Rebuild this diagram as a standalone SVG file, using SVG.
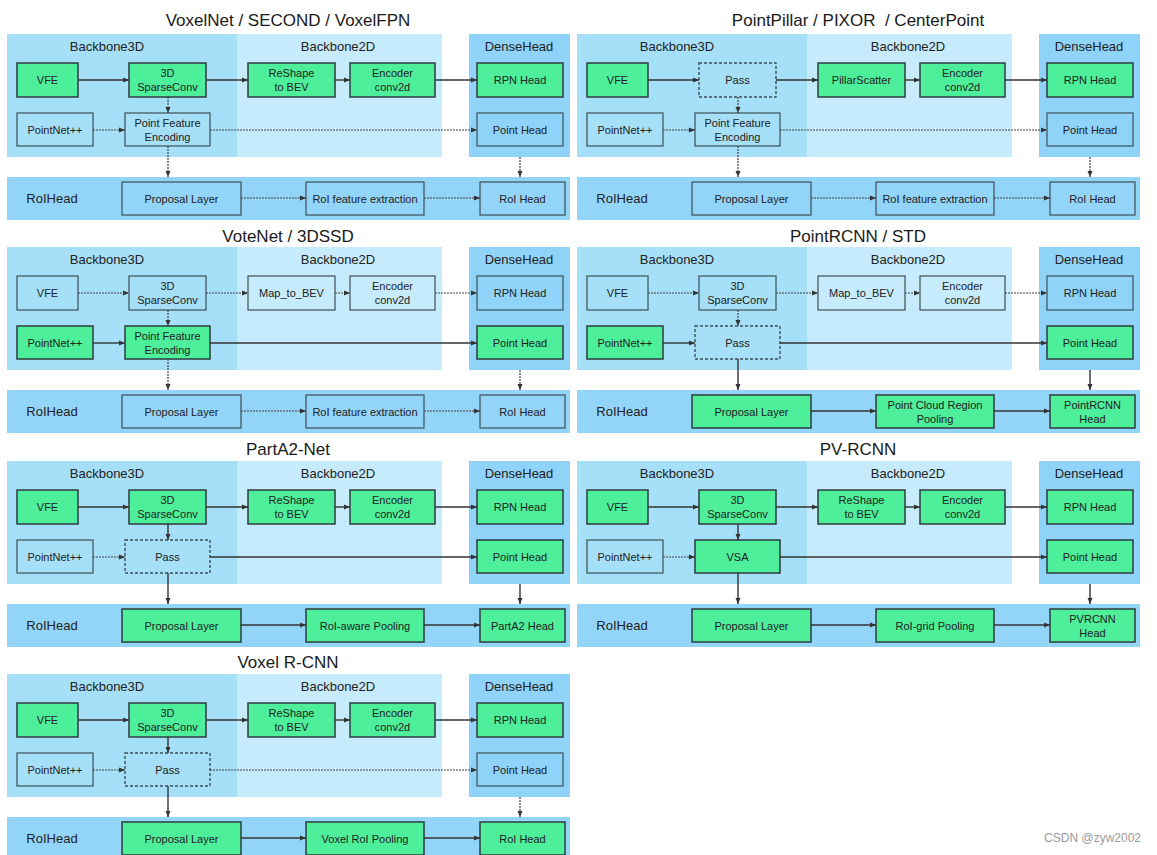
<svg xmlns="http://www.w3.org/2000/svg" width="1157" height="855" viewBox="0 0 1157 855">
<style>
text{font-family:"Liberation Sans",Arial,sans-serif;fill:#222;text-anchor:middle}
.ti{font-size:17px;fill:#1a1a1a;white-space:pre}
.h{font-size:13px}
.t{font-size:11px}
.b3{fill:#a6dff8}
.b2{fill:#c6ebfc}
.dh{fill:#8fd3f9}
.roi{fill:#93d5f9}
.g{fill:#4def9a;stroke:#2f3b3f;stroke-width:1.5}
.l{fill:none;stroke:#3d4f57;stroke-width:1.2}
.p{fill:none;stroke:#3d4f57;stroke-width:1.4;stroke-dasharray:3 2}
.s{stroke:#333;stroke-width:1.4;fill:none;marker-end:url(#ah)}
.d{stroke:#444;stroke-width:1.2;fill:none;stroke-dasharray:2 1;marker-end:url(#ah)}
.wm{font-size:12px;fill:#999;text-anchor:end}
</style>
<defs>
<marker id="ah" viewBox="0 0 6 6" refX="6" refY="3" markerWidth="6" markerHeight="6" markerUnits="userSpaceOnUse" orient="auto"><path d="M0,0.5 L6,3 L0,5.5 z" fill="#333"/></marker>
</defs>
<rect width="1157" height="855" fill="#fff"/>

<!-- Panel 1: VoxelNet -->
<g id="p1">
<text class="ti" x="288" y="26">VoxelNet / SECOND / VoxelFPN</text>
<g id="p1-bb3d"><rect class="b3" x="7" y="34" width="230" height="123"/><text class="h" x="107" y="51">Backbone3D</text></g>
<g id="p1-bb2d"><rect class="b2" x="237" y="34" width="205" height="123"/><text class="h" x="338" y="51">Backbone2D</text></g>
<g id="p1-dense"><rect class="dh" x="469" y="34" width="101" height="123"/><text class="h" x="519" y="51">DenseHead</text></g>
<g id="p1-roihead"><rect class="roi" x="7" y="177" width="563" height="43"/><text class="h" x="52" y="203">RoIHead</text></g>
<g id="p1-vfe"><rect class="g" x="17" y="63" width="61" height="34"/><text class="t" x="47.5" y="84">VFE</text></g>
<g id="p1-sparse"><rect class="g" x="129" y="63" width="77" height="34"/><text class="t" x="167.5" y="77">3D</text><text class="t" x="167.5" y="91">SparseConv</text></g>
<g id="p1-reshape"><rect class="g" x="248" y="63" width="87" height="34"/><text class="t" x="291.5" y="77">ReShape</text><text class="t" x="291.5" y="91">to BEV</text></g>
<g id="p1-enc"><rect class="g" x="350" y="63" width="85" height="34"/><text class="t" x="392.5" y="77">Encoder</text><text class="t" x="392.5" y="91">conv2d</text></g>
<g id="p1-rpn"><rect class="g" x="477" y="63" width="86" height="34"/><text class="t" x="520" y="84">RPN Head</text></g>
<g id="p1-pnet"><rect class="l" x="17" y="113" width="76" height="33"/><text class="t" x="55" y="133.5">PointNet++</text></g>
<g id="p1-pfe"><rect class="l" x="125" y="113" width="85" height="33"/><text class="t" x="167.5" y="127">Point Feature</text><text class="t" x="167.5" y="141">Encoding</text></g>
<g id="p1-ph"><rect class="l" x="477" y="113" width="86" height="33"/><text class="t" x="520" y="133.5">Point Head</text></g>
<g id="p1-prop"><rect class="l" x="122" y="182" width="119" height="33"/><text class="t" x="181.5" y="202.5">Proposal Layer</text></g>
<g id="p1-rfe"><rect class="l" x="306" y="182" width="118" height="33"/><text class="t" x="365" y="202.5">RoI feature extraction</text></g>
<g id="p1-rh"><rect class="l" x="480" y="182" width="85" height="33"/><text class="t" x="522.5" y="202.5">RoI Head</text></g>
<g id="p1-edges">
<line class="s" x1="78" y1="80" x2="129" y2="80"/>
<line class="s" x1="206" y1="80" x2="248" y2="80"/>
<line class="s" x1="335" y1="80" x2="350" y2="80"/>
<line class="s" x1="435" y1="80" x2="477" y2="80"/>
<line class="d" x1="168" y1="97" x2="168" y2="113"/>
<line class="d" x1="93" y1="130" x2="125" y2="130"/>
<line class="d" x1="210" y1="130" x2="477" y2="130"/>
<line class="d" x1="168" y1="146" x2="168" y2="177"/>
<line class="d" x1="520" y1="157" x2="520" y2="177"/>
<line class="d" x1="241" y1="198" x2="306" y2="198"/>
<line class="d" x1="424" y1="198" x2="480" y2="198"/>
</g>
</g>

<!-- Panel 2: PointPillar -->
<g id="p2" transform="translate(570,0)">
<text class="ti" x="288" y="26">PointPillar / PIXOR  / CenterPoint</text>
<g id="p2-bb3d"><rect class="b3" x="7" y="34" width="230" height="123"/><text class="h" x="107" y="51">Backbone3D</text></g>
<g id="p2-bb2d"><rect class="b2" x="237" y="34" width="205" height="123"/><text class="h" x="338" y="51">Backbone2D</text></g>
<g id="p2-dense"><rect class="dh" x="469" y="34" width="101" height="123"/><text class="h" x="519" y="51">DenseHead</text></g>
<g id="p2-roihead"><rect class="roi" x="7" y="177" width="563" height="43"/><text class="h" x="52" y="203">RoIHead</text></g>
<g id="p2-vfe"><rect class="g" x="17" y="63" width="61" height="34"/><text class="t" x="47.5" y="84">VFE</text></g>
<g id="p2-pass"><rect class="p" x="129" y="63" width="77" height="34"/><text class="t" x="167.5" y="84">Pass</text></g>
<g id="p2-scatter"><rect class="g" x="248" y="63" width="87" height="34"/><text class="t" x="291.5" y="84">PillarScatter</text></g>
<g id="p2-enc"><rect class="g" x="350" y="63" width="85" height="34"/><text class="t" x="392.5" y="77">Encoder</text><text class="t" x="392.5" y="91">conv2d</text></g>
<g id="p2-rpn"><rect class="g" x="477" y="63" width="86" height="34"/><text class="t" x="520" y="84">RPN Head</text></g>
<g id="p2-pnet"><rect class="l" x="17" y="113" width="76" height="33"/><text class="t" x="55" y="133.5">PointNet++</text></g>
<g id="p2-pfe"><rect class="l" x="125" y="113" width="85" height="33"/><text class="t" x="167.5" y="127">Point Feature</text><text class="t" x="167.5" y="141">Encoding</text></g>
<g id="p2-ph"><rect class="l" x="477" y="113" width="86" height="33"/><text class="t" x="520" y="133.5">Point Head</text></g>
<g id="p2-prop"><rect class="l" x="122" y="182" width="119" height="33"/><text class="t" x="181.5" y="202.5">Proposal Layer</text></g>
<g id="p2-rfe"><rect class="l" x="306" y="182" width="118" height="33"/><text class="t" x="365" y="202.5">RoI feature extraction</text></g>
<g id="p2-rh"><rect class="l" x="480" y="182" width="85" height="33"/><text class="t" x="522.5" y="202.5">RoI Head</text></g>
<g id="p2-edges">
<line class="s" x1="78" y1="80" x2="129" y2="80"/>
<line class="s" x1="206" y1="80" x2="248" y2="80"/>
<line class="s" x1="335" y1="80" x2="350" y2="80"/>
<line class="s" x1="435" y1="80" x2="477" y2="80"/>
<line class="d" x1="168" y1="97" x2="168" y2="113"/>
<line class="d" x1="93" y1="130" x2="125" y2="130"/>
<line class="d" x1="210" y1="130" x2="477" y2="130"/>
<line class="d" x1="168" y1="146" x2="168" y2="177"/>
<line class="d" x1="520" y1="157" x2="520" y2="177"/>
<line class="d" x1="241" y1="198" x2="306" y2="198"/>
<line class="d" x1="424" y1="198" x2="480" y2="198"/>
</g>
</g>

<!-- Panel 3: VoteNet -->
<g id="p3" transform="translate(0,213)">
<text class="ti" x="288" y="29">VoteNet / 3DSSD</text>
<g id="p3-bb3d"><rect class="b3" x="7" y="34" width="230" height="123"/><text class="h" x="107" y="51">Backbone3D</text></g>
<g id="p3-bb2d"><rect class="b2" x="237" y="34" width="205" height="123"/><text class="h" x="338" y="51">Backbone2D</text></g>
<g id="p3-dense"><rect class="dh" x="469" y="34" width="101" height="123"/><text class="h" x="519" y="51">DenseHead</text></g>
<g id="p3-roihead"><rect class="roi" x="7" y="177" width="563" height="43"/><text class="h" x="52" y="203">RoIHead</text></g>
<g id="p3-vfe"><rect class="l" x="17" y="63" width="61" height="34"/><text class="t" x="47.5" y="84">VFE</text></g>
<g id="p3-sparse"><rect class="l" x="129" y="63" width="77" height="34"/><text class="t" x="167.5" y="77">3D</text><text class="t" x="167.5" y="91">SparseConv</text></g>
<g id="p3-map"><rect class="l" x="248" y="63" width="87" height="34"/><text class="t" x="291.5" y="84">Map_to_BEV</text></g>
<g id="p3-enc"><rect class="l" x="350" y="63" width="85" height="34"/><text class="t" x="392.5" y="77">Encoder</text><text class="t" x="392.5" y="91">conv2d</text></g>
<g id="p3-rpn"><rect class="l" x="477" y="63" width="86" height="34"/><text class="t" x="520" y="84">RPN Head</text></g>
<g id="p3-pnet"><rect class="g" x="17" y="113" width="76" height="33"/><text class="t" x="55" y="133.5">PointNet++</text></g>
<g id="p3-pfe"><rect class="g" x="125" y="113" width="85" height="33"/><text class="t" x="167.5" y="127">Point Feature</text><text class="t" x="167.5" y="141">Encoding</text></g>
<g id="p3-ph"><rect class="g" x="477" y="113" width="86" height="33"/><text class="t" x="520" y="133.5">Point Head</text></g>
<g id="p3-prop"><rect class="l" x="122" y="182" width="119" height="33"/><text class="t" x="181.5" y="202.5">Proposal Layer</text></g>
<g id="p3-rfe"><rect class="l" x="306" y="182" width="118" height="33"/><text class="t" x="365" y="202.5">RoI feature extraction</text></g>
<g id="p3-rh"><rect class="l" x="480" y="182" width="85" height="33"/><text class="t" x="522.5" y="202.5">RoI Head</text></g>
<g id="p3-edges">
<line class="d" x1="78" y1="80" x2="129" y2="80"/>
<line class="d" x1="206" y1="80" x2="248" y2="80"/>
<line class="d" x1="335" y1="80" x2="350" y2="80"/>
<line class="d" x1="435" y1="80" x2="477" y2="80"/>
<line class="d" x1="168" y1="97" x2="168" y2="113"/>
<line class="s" x1="93" y1="130" x2="125" y2="130"/>
<line class="s" x1="210" y1="130" x2="477" y2="130"/>
<line class="d" x1="168" y1="146" x2="168" y2="177"/>
<line class="d" x1="520" y1="157" x2="520" y2="177"/>
<line class="d" x1="241" y1="198" x2="306" y2="198"/>
<line class="d" x1="424" y1="198" x2="480" y2="198"/>
</g>
</g>

<!-- Panel 4: PointRCNN -->
<g id="p4" transform="translate(570,213)">
<text class="ti" x="288" y="29">PointRCNN / STD</text>
<g id="p4-bb3d"><rect class="b3" x="7" y="34" width="230" height="123"/><text class="h" x="107" y="51">Backbone3D</text></g>
<g id="p4-bb2d"><rect class="b2" x="237" y="34" width="205" height="123"/><text class="h" x="338" y="51">Backbone2D</text></g>
<g id="p4-dense"><rect class="dh" x="469" y="34" width="101" height="123"/><text class="h" x="519" y="51">DenseHead</text></g>
<g id="p4-roihead"><rect class="roi" x="7" y="177" width="563" height="43"/><text class="h" x="52" y="203">RoIHead</text></g>
<g id="p4-vfe"><rect class="l" x="17" y="63" width="61" height="34"/><text class="t" x="47.5" y="84">VFE</text></g>
<g id="p4-sparse"><rect class="l" x="129" y="63" width="77" height="34"/><text class="t" x="167.5" y="77">3D</text><text class="t" x="167.5" y="91">SparseConv</text></g>
<g id="p4-map"><rect class="l" x="248" y="63" width="87" height="34"/><text class="t" x="291.5" y="84">Map_to_BEV</text></g>
<g id="p4-enc"><rect class="l" x="350" y="63" width="85" height="34"/><text class="t" x="392.5" y="77">Encoder</text><text class="t" x="392.5" y="91">conv2d</text></g>
<g id="p4-rpn"><rect class="l" x="477" y="63" width="86" height="34"/><text class="t" x="520" y="84">RPN Head</text></g>
<g id="p4-pnet"><rect class="g" x="17" y="113" width="76" height="33"/><text class="t" x="55" y="133.5">PointNet++</text></g>
<g id="p4-pass"><rect class="p" x="125" y="113" width="85" height="33"/><text class="t" x="167.5" y="133.5">Pass</text></g>
<g id="p4-ph"><rect class="g" x="477" y="113" width="86" height="33"/><text class="t" x="520" y="133.5">Point Head</text></g>
<g id="p4-prop"><rect class="g" x="122" y="182" width="119" height="33"/><text class="t" x="181.5" y="202.5">Proposal Layer</text></g>
<g id="p4-pcrp"><rect class="g" x="306" y="182" width="118" height="33"/><text class="t" x="365" y="195.5">Point Cloud Region</text><text class="t" x="365" y="209.5">Pooling</text></g>
<g id="p4-rh"><rect class="g" x="480" y="182" width="85" height="33"/><text class="t" x="522.5" y="195.5">PointRCNN</text><text class="t" x="522.5" y="209.5">Head</text></g>
<g id="p4-edges">
<line class="d" x1="78" y1="80" x2="129" y2="80"/>
<line class="d" x1="206" y1="80" x2="248" y2="80"/>
<line class="d" x1="335" y1="80" x2="350" y2="80"/>
<line class="d" x1="435" y1="80" x2="477" y2="80"/>
<line class="d" x1="168" y1="97" x2="168" y2="113"/>
<line class="s" x1="93" y1="130" x2="125" y2="130"/>
<line class="s" x1="210" y1="130" x2="477" y2="130"/>
<line class="s" x1="168" y1="146" x2="168" y2="177"/>
<line class="s" x1="520" y1="157" x2="520" y2="177"/>
<line class="s" x1="241" y1="198" x2="306" y2="198"/>
<line class="s" x1="424" y1="198" x2="480" y2="198"/>
</g>
</g>

<!-- Panel 5: PartA2-Net -->
<g id="p5" transform="translate(0,427)">
<text class="ti" x="288" y="28">PartA2-Net</text>
<g id="p5-bb3d"><rect class="b3" x="7" y="34" width="230" height="123"/><text class="h" x="107" y="51">Backbone3D</text></g>
<g id="p5-bb2d"><rect class="b2" x="237" y="34" width="205" height="123"/><text class="h" x="338" y="51">Backbone2D</text></g>
<g id="p5-dense"><rect class="dh" x="469" y="34" width="101" height="123"/><text class="h" x="519" y="51">DenseHead</text></g>
<g id="p5-roihead"><rect class="roi" x="7" y="177" width="563" height="43"/><text class="h" x="52" y="203">RoIHead</text></g>
<g id="p5-vfe"><rect class="g" x="17" y="63" width="61" height="34"/><text class="t" x="47.5" y="84">VFE</text></g>
<g id="p5-sparse"><rect class="g" x="129" y="63" width="77" height="34"/><text class="t" x="167.5" y="77">3D</text><text class="t" x="167.5" y="91">SparseConv</text></g>
<g id="p5-reshape"><rect class="g" x="248" y="63" width="87" height="34"/><text class="t" x="291.5" y="77">ReShape</text><text class="t" x="291.5" y="91">to BEV</text></g>
<g id="p5-enc"><rect class="g" x="350" y="63" width="85" height="34"/><text class="t" x="392.5" y="77">Encoder</text><text class="t" x="392.5" y="91">conv2d</text></g>
<g id="p5-rpn"><rect class="g" x="477" y="63" width="86" height="34"/><text class="t" x="520" y="84">RPN Head</text></g>
<g id="p5-pnet"><rect class="l" x="17" y="113" width="76" height="33"/><text class="t" x="55" y="133.5">PointNet++</text></g>
<g id="p5-pass"><rect class="p" x="125" y="113" width="85" height="33"/><text class="t" x="167.5" y="133.5">Pass</text></g>
<g id="p5-ph"><rect class="g" x="477" y="113" width="86" height="33"/><text class="t" x="520" y="133.5">Point Head</text></g>
<g id="p5-prop"><rect class="g" x="122" y="182" width="119" height="33"/><text class="t" x="181.5" y="202.5">Proposal Layer</text></g>
<g id="p5-pool"><rect class="g" x="306" y="182" width="118" height="33"/><text class="t" x="365" y="202.5">RoI-aware Pooling</text></g>
<g id="p5-rh"><rect class="g" x="480" y="182" width="85" height="33"/><text class="t" x="522.5" y="202.5">PartA2 Head</text></g>
<g id="p5-edges">
<line class="s" x1="78" y1="80" x2="129" y2="80"/>
<line class="s" x1="206" y1="80" x2="248" y2="80"/>
<line class="s" x1="335" y1="80" x2="350" y2="80"/>
<line class="s" x1="435" y1="80" x2="477" y2="80"/>
<line class="s" x1="168" y1="97" x2="168" y2="113"/>
<line class="d" x1="93" y1="130" x2="125" y2="130"/>
<line class="s" x1="210" y1="130" x2="477" y2="130"/>
<line class="s" x1="168" y1="146" x2="168" y2="177"/>
<line class="s" x1="520" y1="157" x2="520" y2="177"/>
<line class="s" x1="241" y1="198" x2="306" y2="198"/>
<line class="s" x1="424" y1="198" x2="480" y2="198"/>
</g>
</g>

<!-- Panel 6: PV-RCNN -->
<g id="p6" transform="translate(570,427)">
<text class="ti" x="288" y="28">PV-RCNN</text>
<g id="p6-bb3d"><rect class="b3" x="7" y="34" width="230" height="123"/><text class="h" x="107" y="51">Backbone3D</text></g>
<g id="p6-bb2d"><rect class="b2" x="237" y="34" width="205" height="123"/><text class="h" x="338" y="51">Backbone2D</text></g>
<g id="p6-dense"><rect class="dh" x="469" y="34" width="101" height="123"/><text class="h" x="519" y="51">DenseHead</text></g>
<g id="p6-roihead"><rect class="roi" x="7" y="177" width="563" height="43"/><text class="h" x="52" y="203">RoIHead</text></g>
<g id="p6-vfe"><rect class="g" x="17" y="63" width="61" height="34"/><text class="t" x="47.5" y="84">VFE</text></g>
<g id="p6-sparse"><rect class="g" x="129" y="63" width="77" height="34"/><text class="t" x="167.5" y="77">3D</text><text class="t" x="167.5" y="91">SparseConv</text></g>
<g id="p6-reshape"><rect class="g" x="248" y="63" width="87" height="34"/><text class="t" x="291.5" y="77">ReShape</text><text class="t" x="291.5" y="91">to BEV</text></g>
<g id="p6-enc"><rect class="g" x="350" y="63" width="85" height="34"/><text class="t" x="392.5" y="77">Encoder</text><text class="t" x="392.5" y="91">conv2d</text></g>
<g id="p6-rpn"><rect class="g" x="477" y="63" width="86" height="34"/><text class="t" x="520" y="84">RPN Head</text></g>
<g id="p6-pnet"><rect class="l" x="17" y="113" width="76" height="33"/><text class="t" x="55" y="133.5">PointNet++</text></g>
<g id="p6-vsa"><rect class="g" x="125" y="113" width="85" height="33"/><text class="t" x="167.5" y="133.5">VSA</text></g>
<g id="p6-ph"><rect class="g" x="477" y="113" width="86" height="33"/><text class="t" x="520" y="133.5">Point Head</text></g>
<g id="p6-prop"><rect class="g" x="122" y="182" width="119" height="33"/><text class="t" x="181.5" y="202.5">Proposal Layer</text></g>
<g id="p6-pool"><rect class="g" x="306" y="182" width="118" height="33"/><text class="t" x="365" y="202.5">RoI-grid Pooling</text></g>
<g id="p6-rh"><rect class="g" x="480" y="182" width="85" height="33"/><text class="t" x="522.5" y="195.5">PVRCNN</text><text class="t" x="522.5" y="209.5">Head</text></g>
<g id="p6-edges">
<line class="s" x1="78" y1="80" x2="129" y2="80"/>
<line class="s" x1="206" y1="80" x2="248" y2="80"/>
<line class="s" x1="335" y1="80" x2="350" y2="80"/>
<line class="s" x1="435" y1="80" x2="477" y2="80"/>
<line class="s" x1="168" y1="97" x2="168" y2="113"/>
<line class="d" x1="93" y1="130" x2="125" y2="130"/>
<line class="s" x1="210" y1="130" x2="477" y2="130"/>
<line class="s" x1="168" y1="146" x2="168" y2="177"/>
<line class="s" x1="520" y1="157" x2="520" y2="177"/>
<line class="s" x1="241" y1="198" x2="306" y2="198"/>
<line class="s" x1="424" y1="198" x2="480" y2="198"/>
</g>
</g>

<!-- Panel 7: Voxel R-CNN -->
<g id="p7" transform="translate(0,640)">
<text class="ti" x="288" y="28">Voxel R-CNN</text>
<g id="p7-bb3d"><rect class="b3" x="7" y="34" width="230" height="123"/><text class="h" x="107" y="51">Backbone3D</text></g>
<g id="p7-bb2d"><rect class="b2" x="237" y="34" width="205" height="123"/><text class="h" x="338" y="51">Backbone2D</text></g>
<g id="p7-dense"><rect class="dh" x="469" y="34" width="101" height="123"/><text class="h" x="519" y="51">DenseHead</text></g>
<g id="p7-roihead"><rect class="roi" x="7" y="177" width="563" height="43"/><text class="h" x="52" y="203">RoIHead</text></g>
<g id="p7-vfe"><rect class="g" x="17" y="63" width="61" height="34"/><text class="t" x="47.5" y="84">VFE</text></g>
<g id="p7-sparse"><rect class="g" x="129" y="63" width="77" height="34"/><text class="t" x="167.5" y="77">3D</text><text class="t" x="167.5" y="91">SparseConv</text></g>
<g id="p7-reshape"><rect class="g" x="248" y="63" width="87" height="34"/><text class="t" x="291.5" y="77">ReShape</text><text class="t" x="291.5" y="91">to BEV</text></g>
<g id="p7-enc"><rect class="g" x="350" y="63" width="85" height="34"/><text class="t" x="392.5" y="77">Encoder</text><text class="t" x="392.5" y="91">conv2d</text></g>
<g id="p7-rpn"><rect class="g" x="477" y="63" width="86" height="34"/><text class="t" x="520" y="84">RPN Head</text></g>
<g id="p7-pnet"><rect class="l" x="17" y="113" width="76" height="33"/><text class="t" x="55" y="133.5">PointNet++</text></g>
<g id="p7-pass"><rect class="p" x="125" y="113" width="85" height="33"/><text class="t" x="167.5" y="133.5">Pass</text></g>
<g id="p7-ph"><rect class="l" x="477" y="113" width="86" height="33"/><text class="t" x="520" y="133.5">Point Head</text></g>
<g id="p7-prop"><rect class="g" x="122" y="182" width="119" height="33"/><text class="t" x="181.5" y="202.5">Proposal Layer</text></g>
<g id="p7-pool"><rect class="g" x="306" y="182" width="118" height="33"/><text class="t" x="365" y="202.5">Voxel RoI Pooling</text></g>
<g id="p7-rh"><rect class="g" x="480" y="182" width="85" height="33"/><text class="t" x="522.5" y="202.5">RoI Head</text></g>
<g id="p7-edges">
<line class="s" x1="78" y1="80" x2="129" y2="80"/>
<line class="s" x1="206" y1="80" x2="248" y2="80"/>
<line class="s" x1="335" y1="80" x2="350" y2="80"/>
<line class="s" x1="435" y1="80" x2="477" y2="80"/>
<line class="s" x1="168" y1="97" x2="168" y2="113"/>
<line class="d" x1="93" y1="130" x2="125" y2="130"/>
<line class="d" x1="210" y1="130" x2="477" y2="130"/>
<line class="s" x1="168" y1="146" x2="168" y2="177"/>
<line class="d" x1="520" y1="157" x2="520" y2="177"/>
<line class="s" x1="241" y1="198" x2="306" y2="198"/>
<line class="s" x1="424" y1="198" x2="480" y2="198"/>
</g>
</g>

<text class="wm" x="1141" y="842">CSDN @zyw2002</text>
</svg>
